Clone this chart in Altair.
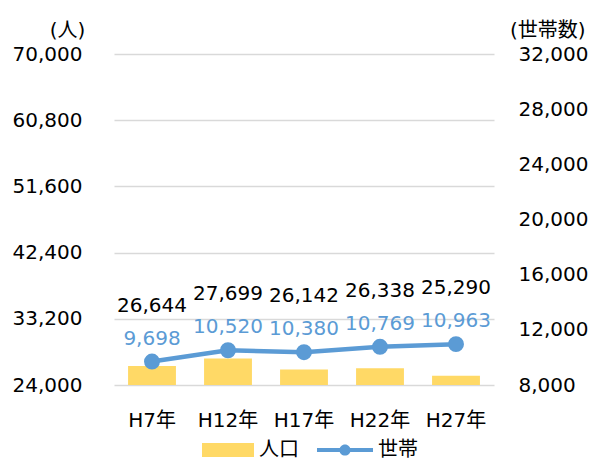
import altair as alt
import pandas as pd

years = ["H7年", "H12年", "H17年", "H22年", "H27年"]
population = [26644, 27699, 26142, 26338, 25290]
households = [9698, 10520, 10380, 10769, 10963]
left_ticks = [24000, 33200, 42400, 51600, 60800, 70000]
right_ticks = [8000, 12000, 16000, 20000, 24000, 28000, 32000]

df = pd.DataFrame({"year": years, "population": population, "households": households})

FONT = "DejaVu Sans, Noto Sans CJK JP"
YELLOW = "#FFD966"
BLUE = "#5B9BD5"
FS = 20

base = alt.Chart(df)

x = alt.X(
    "year:N", sort=years, title=None,
    scale=alt.Scale(paddingInner=0.37, paddingOuter=0.185),
    axis=alt.Axis(labelAngle=0, domain=False, ticks=False, grid=False, labelPadding=25),
)

y_left = alt.Y(
    "population:Q",
    scale=alt.Scale(domain=[24000, 70000], zero=False, nice=False),
    axis=alt.Axis(values=left_ticks, format=",.0f", orient="left", grid=True,
                  gridColor="#D9D9D9", gridWidth=1.5, domain=False, ticks=False,
                  labelPadding=32, title="(人)", titleAngle=0, titleX=-47, titleY=-24,
                  titleAlign="center", titleBaseline="middle"),
)

y_right = alt.Y(
    "households:Q",
    scale=alt.Scale(domain=[8000, 32000], zero=False, nice=False),
    axis=alt.Axis(values=right_ticks, format=",.0f", orient="right", grid=False,
                  domain=False, ticks=False, labelPadding=24, title="(世帯数)",
                  titleAngle=0, titleX=91, titleY=-24, titleAlign="right",
                  titleBaseline="middle"),
)

bars = base.mark_bar(opacity=1).transform_calculate(series="'人口'").encode(
    x=x,
    y=y_left,
    y2=alt.datum(24000),
    fill=alt.Fill("series:N", scale=alt.Scale(domain=["人口"], range=[YELLOW]),
                  legend=alt.Legend(title=None, orient="none", legendX=88, legendY=370,
                                    symbolType="M-1,-0.27H1V0.27H-1Z", symbolSize=2704,
                                    symbolStrokeWidth=0, labelOffset=5)),
)

line = base.mark_line(color=BLUE, strokeWidth=4.5).encode(x=x, y=y_right)

points = base.mark_circle(size=254, opacity=1).transform_calculate(series2="'世帯'").encode(
    x=x,
    y=y_right,
    fill=alt.Fill("series2:N", scale=alt.Scale(domain=["世帯"], range=[BLUE]),
                  legend=alt.Legend(title=None, orient="none", legendX=203, legendY=368,
                                    symbolType="M-1,-0.07H1V0.07H-1Z M-0.2,0A0.2,0.2 0 1,1 0.2,0A0.2,0.2 0 1,1 -0.2,0Z",
                                    symbolSize=3136, symbolStrokeWidth=0, labelOffset=5)),
)

blue_text = base.mark_text(dy=-23, color=BLUE, fontSize=FS, font=FONT).encode(
    x=x, y=y_right, text=alt.Text("households:Q", format=",")
)

black_text = base.mark_text(dy=-56, color="#000000", fontSize=FS, font=FONT).encode(
    x=x, y=y_right, text=alt.Text("population:Q", format=",")
)

right = alt.layer(line, points, blue_text, black_text)

chart = (
    alt.layer(bars, right)
    .resolve_scale(y="independent", fill="independent")
    .properties(width=380, height=331, autosize="none",
                padding={"left": 106, "top": 46, "right": 94, "bottom": 76})
    .configure_axis(labelFont=FONT, titleFont=FONT, labelFontSize=FS, titleFontSize=FS,
                    labelColor="#000000", titleColor="#000000", titleFontWeight="normal")
    .configure_legend(labelFont=FONT, labelFontSize=FS, labelColor="#000000")
    .configure_view(stroke=None)
)

chart.save("out.html", embed_options={"renderer": "svg", "actions": False})
